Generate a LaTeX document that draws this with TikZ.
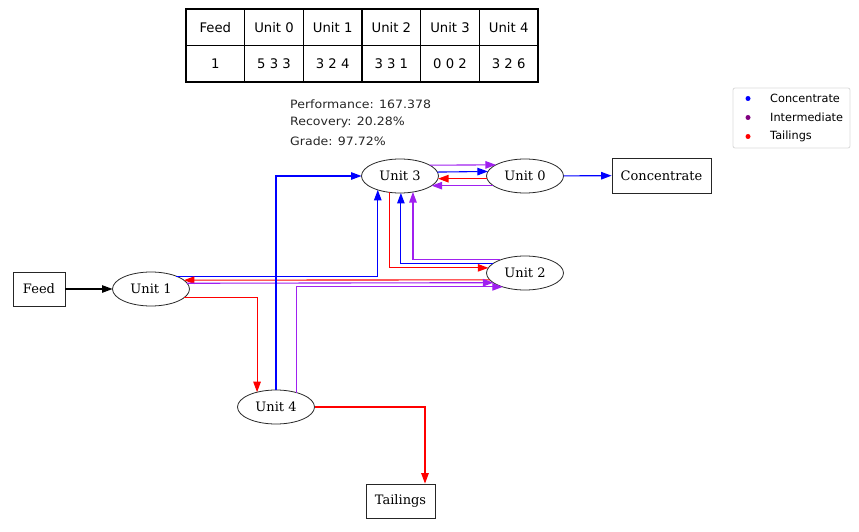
\documentclass[tikz,border=0pt]{standalone}
\usepackage{fontspec}
\setmainfont{DejaVu Serif}
\newfontfamily\dvsans{DejaVu Sans}
\usetikzlibrary{arrows.meta,shapes.geometric}
\definecolor{eblue}{RGB}{0,0,255}
\definecolor{epurple}{HTML}{A020F0}
\definecolor{ered}{RGB}{255,0,0}
\definecolor{lpurple}{HTML}{800080}
\definecolor{perfgray}{HTML}{262626}
\begin{document}
\begin{tikzpicture}[x=1pt,y=-1pt,
  unitnode/.style={ellipse, draw=black!85, line width=0.8pt, minimum width=77pt, minimum height=34pt, inner sep=0pt, outer sep=0pt, font=\fontsize{13}{15}\selectfont},
  boxnode/.style={rectangle, draw=black!85, line width=0.8pt, inner sep=0pt, font=\fontsize{13}{15}\selectfont},
  cell/.style={rectangle, draw=black, line width=1.2pt, minimum width=58.67pt, minimum height=36.5pt, inner sep=0pt, font=\dvsans\fontsize{13.2}{15}\selectfont},
  flow/.style={line width=1.1pt, -{Triangle[length=10.5pt,width=7.5pt]}},
  perf/.style={anchor=west, inner sep=0pt, text=perfgray, font=\dvsans\fontsize{11.5}{13}\selectfont},
  legtext/.style={anchor=west, inner sep=0pt, font=\dvsans\fontsize{11.3}{13}\selectfont},
  legdot/.style={circle, inner sep=0pt, minimum size=5pt}
]
\useasboundingbox (0,0) rectangle (859,532);

% table
\foreach \i/\h/\v in {0/Feed/1, 1/Unit 0/5 3 3, 2/Unit 1/3 2 4, 3/Unit 2/3 3 1, 4/Unit 3/0 0 2, 5/Unit 4/3 2 6} {
  \node[cell] (h\i) at ({215.33+58.67*\i}, 27.25) {\h};
  \node[cell] (v\i) at ({215.33+58.67*\i}, 63.75) {\v};
}

% performance text
\node[perf] (p1) at (290,104) {\scalebox{1.09}[1]{Performance: 167.378}};
\node[perf] (p2) at (290,122.5) {\scalebox{1.09}[1]{Recovery: 20.28\%}};
\node[perf] (p3) at (290,141) {\scalebox{1.09}[1]{Grade: 97.72\%}};

% legend
\node[draw=black!15, rounded corners=2pt, line width=0.8pt, minimum width=117pt, minimum height=60pt, inner sep=0pt] (legend) at (791.5,118) {};
\node[legdot, fill=eblue] (d1) at (748,98.5) {};
\node[legdot, fill=lpurple] (d2) at (748,117.5) {};
\node[legdot, fill=ered] (d3) at (748,136.5) {};
\node[legtext] (l1) at (770,98.5) {Concentrate};
\node[legtext] (l2) at (770,117.5) {Intermediate};
\node[legtext] (l3) at (770,136.5) {Tailings};

% nodes
\node[boxnode, minimum width=52pt, minimum height=34pt] (feed) at (39,289) {Feed};
\node[unitnode] (u1) at (151,289) {Unit 1};
\node[unitnode] (u3) at (400,176) {Unit 3};
\node[unitnode] (u0) at (525,176) {Unit 0};
\node[unitnode] (u2) at (525,273) {Unit 2};
\node[unitnode] (u4) at (276,407) {Unit 4};
\node[boxnode, minimum width=99pt, minimum height=35pt] (conc) at (661.5,175.5) {Concentrate};
\node[boxnode, minimum width=69pt, minimum height=34pt] (tail) at (400.5,501) {Tailings};

% edges
\draw[flow, black] (feed) -- (u1);
\draw[flow, eblue] (u0) -- (conc);
\draw[flow, epurple] (u3.20.54) -- (u0.159.46);
\draw[flow, eblue] (u3.6.10) -- (u0.173.90);
\draw[flow, ered] (u0.184.53) -- (u3.-4.53);
\draw[flow, epurple] (u0.197.81) -- (u3.-17.81);
\draw[flow, eblue] (u1.27.65) -| (u3.212.38);
\draw[flow, ered] (u3.238.66) |- (u2.172.26);
\draw[flow, eblue] (u2.164.59) -| (u3.273.37);
\draw[flow, epurple] (u2.152.35) -| (u3.309.09);
\draw[flow, ered] (u2.191.28) -- (u1.15.41);
\draw[flow, epurple] (u1.9.46) -- (u2.197.81);
\draw[flow, ered] (u1.-15.41) -| (u4.142.11);
\draw[flow, eblue] (u4.90) |- (u3.west);
\draw[flow, epurple] (u4.35.99) |- (u2.212.66);
\draw[flow, ered] (u4.east) -| ([xshift=24.5pt]tail.north);
\end{tikzpicture}
\end{document}
